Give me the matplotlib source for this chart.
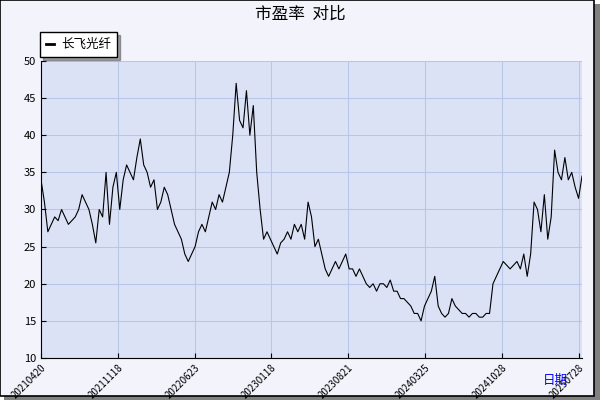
import matplotlib.pyplot as plt
import numpy as np
from matplotlib.patches import Rectangle

plt.rcParams['font.family'] = ['Noto Sans CJK SC', 'DejaVu Sans']

pe_values = [
    34, 31, 27, 28, 29, 28.5, 30, 29, 28, 28.5, 29, 30, 32, 31, 30, 28, 25.5, 30, 29, 35,
    28, 33, 35, 30, 34, 36, 35, 34, 37, 39.5, 36, 35, 33, 34, 30, 31, 33, 32, 30, 28,
    27, 26, 24, 23, 24, 25, 27, 28, 27, 29, 31, 30, 32, 31, 33, 35, 40, 47, 42, 41,
    46, 40, 44, 35, 30, 26, 27, 26, 25, 24, 25.5, 26, 27, 26, 28, 27, 28, 26, 31, 29,
    25, 26, 24, 22, 21, 22, 23, 22, 23, 24, 22, 22, 21, 22, 21, 20, 19.5, 20, 19, 20,
    20, 19.5, 20.5, 19, 19, 18, 18, 17.5, 17, 16, 16, 15, 17, 18, 19, 21, 17, 16, 15.5, 16,
    18, 17, 16.5, 16, 16, 15.5, 16, 16, 15.5, 15.5, 16, 16, 20, 21, 22, 23, 22.5, 22, 22.5, 23,
    22, 24, 21, 24, 31, 30, 27, 32, 26, 29, 38, 35, 34, 37, 34, 35, 33, 31.5, 34.5,
]
tick_labels = ['20210420', '20211118', '20220623', '20230118',
               '20230821', '20240325', '20241028', '20250728']
tick_px = [41, 118, 195, 271, 348, 425, 502, 579]

n = len(pe_values)
x = np.arange(n)
px2idx = lambda p: (p - 41) / (582 - 41) * (n - 1)

fig = plt.figure(figsize=(6, 4), dpi=100)
fig.patch.set_facecolor('white')
fig.patches.append(Rectangle((4 / 600, 0), 596 / 600, 396 / 400, transform=fig.transFigure,
                             facecolor='#808080', edgecolor='none', zorder=-2))
fig.patches.append(Rectangle((0, 4 / 400), 594 / 600, 396 / 400, transform=fig.transFigure,
                             facecolor='#F2F3FB', edgecolor='black', linewidth=1.2, zorder=-1))

ax = fig.add_axes([41 / 600, 1 - 358 / 400, 541 / 600, 297 / 400])
ax.set_facecolor('#DCE2F6')
ax.plot(x, pe_values, color='black', linewidth=0.8, label='长飞光纤')
ax.set_xlim(0, n - 1)
ax.set_ylim(10, 50)
ax.set_yticks(range(10, 51, 5))
ax.set_xticks([px2idx(p) for p in tick_px])
ax.set_xticklabels(tick_labels, rotation=45, ha='right', rotation_mode='anchor', fontsize=7)
ax.tick_params(axis='y', labelsize=8, direction='in')
ax.tick_params(axis='x', direction='in')
ax.grid(True, color='#B8C6EA', linewidth=0.8)
for s in ['top', 'right']:
    ax.spines[s].set_visible(False)

fig.text(0.5, 0.965, '市盈率  对比', ha='center', va='center', fontsize=12)
fig.text(0.925, 0.05, '日期', ha='center', va='center', fontsize=9, color='blue')

leg = ax.legend(loc='lower left', bbox_to_anchor=(-0.002, 1.012), fontsize=9, frameon=True,
                fancybox=False, shadow=True, handlelength=0.6, borderaxespad=0,
                borderpad=0.5, handletextpad=0.6)
leg.get_frame().set_edgecolor('black')
leg.get_lines()[0].set_linewidth(2)

fig.savefig('out.png', dpi=100)
